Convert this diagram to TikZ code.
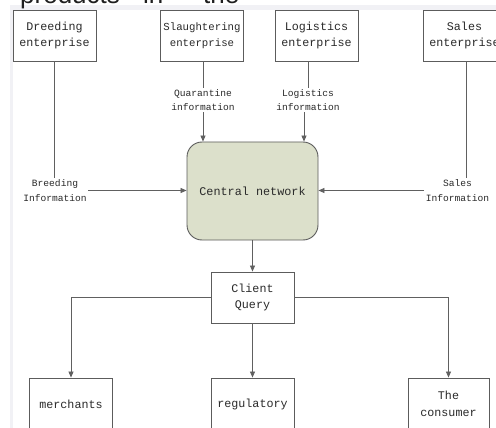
\documentclass[tikz,border=0pt]{standalone}
\usepackage{fontspec}
\setmainfont{Liberation Mono}
\newfontfamily\topfont{Liberation Sans}
\usetikzlibrary{arrows.meta}
\definecolor{boxgray}{HTML}{5C5C5C}
\definecolor{linegray}{HTML}{606060}
\definecolor{txt}{HTML}{2A2A2A}
\definecolor{bandgray}{HTML}{F1F1F5}
\definecolor{cenfill}{HTML}{DCE0CB}
\begin{document}
\begin{tikzpicture}[x=1pt,y=-1pt,
  box/.style={draw=boxgray, line width=0.9pt, fill=white, minimum width=83pt,
    minimum height=51pt, align=center, inner sep=0pt, text=txt,
    font=\fontsize{11.7}{16.5}\selectfont},
  lab/.style={align=center, inner sep=1.5pt, text=txt,
    font=\fontsize{9.6}{14.5}\selectfont},
  central/.style={draw=boxgray, line width=0.9pt, fill=cenfill, rounded corners=15pt,
    minimum width=131pt, minimum height=98pt, inner sep=0pt, text=txt,
    font=\fontsize{11.8}{16}\selectfont},
  conn/.style={draw=linegray, line width=0.8pt},
  arr/.style={conn, -{Triangle[length=6pt,width=5pt]}},
  toptxt/.style={anchor=base west, inner sep=0pt, text=black!88,
    font=\topfont\fontsize{26}{30}\selectfont}]
\useasboundingbox (0,0) rectangle (496,428);
\fill[white] (0,0) rectangle (496,428);
\fill[bandgray] (10,5) rectangle (496,428);
\fill[white] (13,10) rectangle (496,428);
% clipped heading text at the top
\node[toptxt] (t1) at (20,3.5) {products};
\node[toptxt] (t2) at (143,3.5) {in};
\node[toptxt] (t3) at (203,3.5) {the};
% top boxes
\node[box] (dre) at (54.5,35.5) {Dreeding\\enterprise};
\node[box, font=\fontsize{10.7}{16.5}\selectfont] (sla) at (202,35.5) {Slaughtering\\enterprise};
\node[box] (log) at (316.5,35.5) {Logistics\\enterprise};
\node[box] (sal) at (464.5,35.5) {Sales\\enterprise};
% labels
\node[lab] (qi) at (203,100) {Quarantine\\information};
\node[lab] (li) at (308,100) {Logistics\\information};
\node[lab] (bi) at (55,190.5) {Breeding\\Information};
\node[lab] (si) at (457.5,190.5) {Sales\\Information};
% central
\node[central] (cen) at (252.5,191) {Central network};
% client query and bottom boxes
\node[box] (cq) at (252.5,297.5) {Client\\Query};
\node[box, minimum height=52pt] (mer) at (71,404) {merchants};
\node[box, minimum height=52pt] (reg) at (252.5,404) {regulatory};
\node[box, minimum width=81pt, minimum height=52pt] (con) at (448.5,404) {The\\consumer};
% connectors
\draw[conn] (dre.south) -- (dre.south |- bi.north);
\draw[arr] (bi.east) -- (bi.east -| cen.west);
\draw[conn] (sla.south -| qi.north) -- (qi.north);
\draw[arr] (qi.south) -- (qi.south |- cen.north);
\draw[conn] (li.north |- log.south) -- (li.north);
\draw[arr] ([xshift=-4pt]li.south) -- ([xshift=-4pt]li.south |- cen.north);
\draw[conn] ([xshift=1.5pt]sal.south) -- ([xshift=1.5pt]sal.south |- si.north);
\draw[arr] (si.west) -- (si.west -| cen.east);
\draw[arr] (cen.south) -- (cq.north);
\draw[arr] (cq.west) -| (mer.north);
\draw[arr] (cq.south) -- (reg.north);
\draw[arr] (cq.east) -| (con.north);
\end{tikzpicture}
\end{document}
